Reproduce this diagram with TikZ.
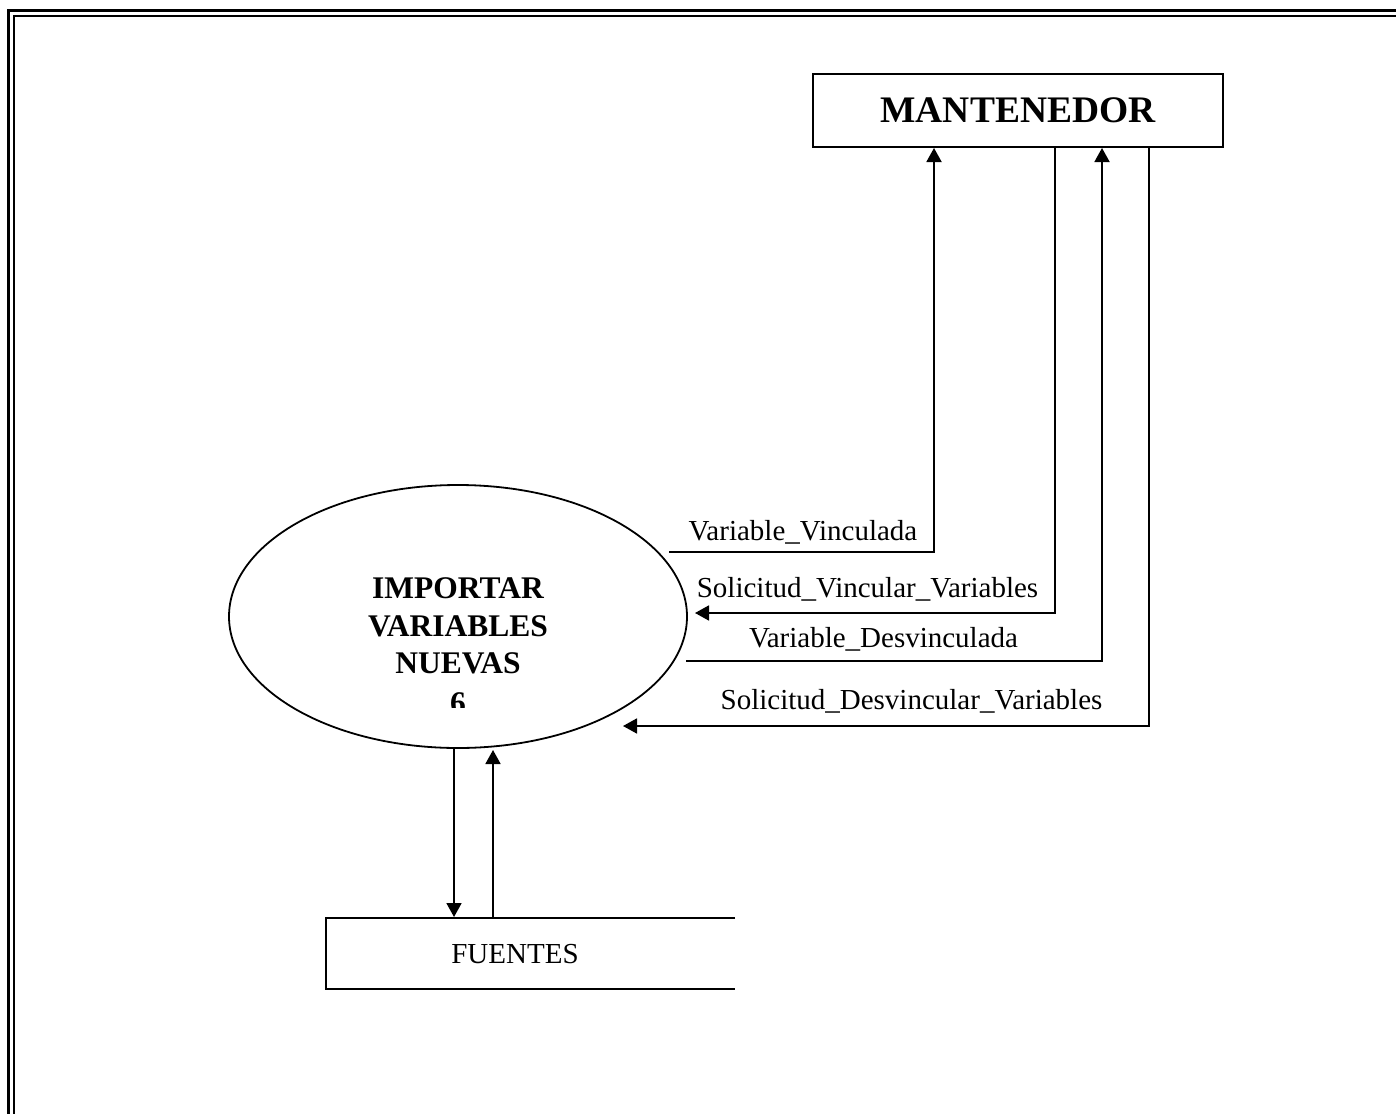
\documentclass[tikz,border=0pt]{standalone}
\usepackage{fontspec}
\setmainfont{Liberation Serif}
\usetikzlibrary{arrows.meta,shapes.geometric}
\begin{document}
\begin{tikzpicture}[x=1pt,y=-1pt,
  flow/.style={line width=1.8pt,-{Triangle[width=15pt,length=14pt]}},
  plain/.style={line width=1.8pt},
  lbl/.style={font=\fontsize{29}{34}\selectfont, inner sep=0pt, anchor=base},
  proctxt/.style={font=\fontsize{31.5}{37}\selectfont\bfseries, inner sep=0pt, anchor=base},
]
\useasboundingbox (0,0) rectangle (1396,1113);
\clip (0,0) rectangle (1396,1113);

% double page frame (open to the right and bottom)
\draw[line width=3pt] (8.5,1130) -- (8.5,11) -- (1410,11);
\draw[line width=2pt] (14,1130) -- (14,16) -- (1410,16);

% external entity
\node[draw, line width=2.3pt, minimum width=410pt, minimum height=73pt, inner sep=0pt,
      font=\fontsize{37.5}{42}\selectfont\bfseries] (mant) at (1018,110.5) {MANTENEDOR};

% process
\node[ellipse, draw, line width=1.8pt, minimum width=458pt, minimum height=263pt, inner sep=0pt] (proc) at (458,616.5) {};
\node[proctxt] (p1) at (458,598.3) {IMPORTAR};
\node[proctxt] (p2) at (458,636) {VARIABLES};
\node[proctxt] (p3) at (458,673) {NUEVAS};
\begin{scope}
  \clip (229,560) rectangle (687,707);
  \node[proctxt] (p4) at (458,713) {6};
\end{scope}

% data store
\draw[plain] (735,918) -- (326,918) -- (326,989) -- (735,989);
\node[lbl] (fuentes) at (515,963) {FUENTES};

% connector end points
\coordinate (m1) at (934,148);
\coordinate (m2) at (1055,148);
\coordinate (m3) at (1102,148);
\coordinate (m4) at (1149,148);
\coordinate (a1) at (669,552);
\coordinate (a2) at (695,613);
\coordinate (a3) at (686,661);
\coordinate (a4) at (623,726);
\coordinate (d1) at (454,748);
\coordinate (d2) at (454,917);
\coordinate (u1) at (493,917);
\coordinate (u2) at (493,750);

% flows between process and entity
\draw[flow] (a1) -| (m1);
\draw[flow] (m2) |- (a2);
\draw[flow] (a3) -| (m3);
\draw[flow] (m4) |- (a4);

\node[lbl] (l1) at (803,540) {Variable\_Vinculada};
\node[lbl] (l2) at (867.5,597) {Solicitud\_Vincular\_Variables};
\node[lbl] (l3) at (883.5,647) {Variable\_Desvinculada};
\node[lbl] (l4) at (911.5,709) {Solicitud\_Desvincular\_Variables};

% flows between process and store
\draw[flow] (d1) -- (d2);
\draw[flow] (u1) -- (u2);
\end{tikzpicture}
\end{document}
